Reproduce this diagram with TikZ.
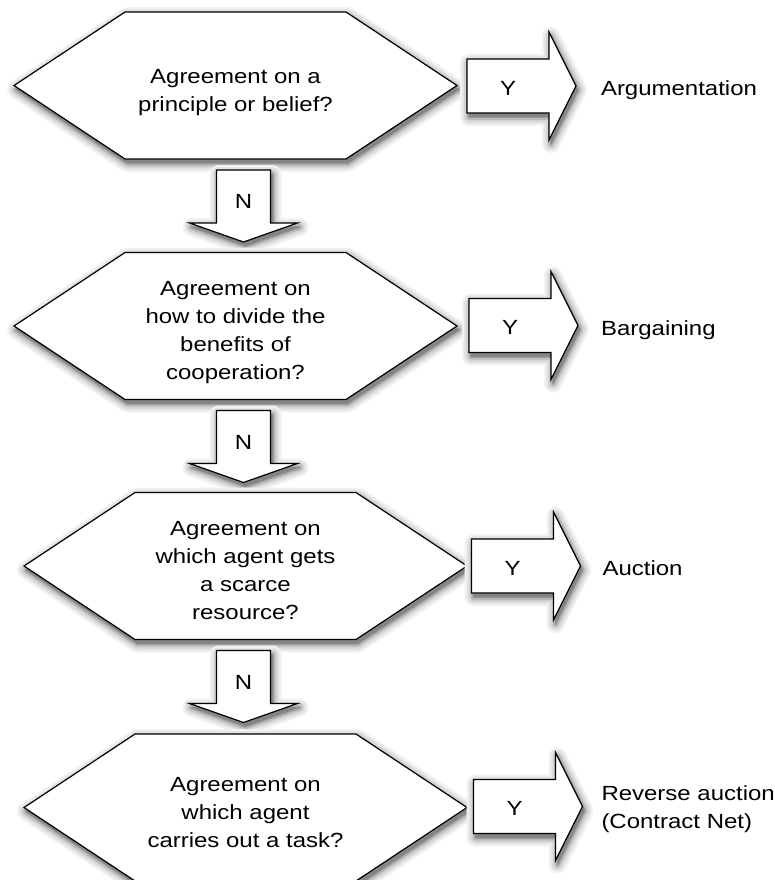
\documentclass[tikz,border=0pt]{standalone}
\usepackage{fontspec}
\setmainfont{Liberation Sans}[FakeStretch=1.17]
\usetikzlibrary{calc}
\pgfdeclarelayer{shapes}
\pgfsetlayers{shapes,main}
% struts fixing the first and last line of a question
\newcommand{\qfirst}{\rule{0pt}{28.6pt}}
\newcommand{\qlast}{\rule[-5pt]{0pt}{5pt}}
% outlines drawn around a node, moved by an offset #2
\newcommand{\hexagonpath}[2]{($(#1.west)+#2$) -- ($(#1.north west)+(111,0)+#2$)
  -- ($(#1.north east)+(-111,0)+#2$) -- ($(#1.east)+#2$)
  -- ($(#1.south east)+(-111,0)+#2$) -- ($(#1.south west)+(111,0)+#2$) -- cycle}
\newcommand{\downarrowpath}[2]{($(#1.north west)+#2$) -- ($(#1.north east)+#2$)
  -- ($(#1.south east)+#2$) -- ($(#1.south east)+(27,0)+#2$)
  -- ($(#1.south)+(0,19)+#2$) -- ($(#1.south west)+(-27,0)+#2$)
  -- ($(#1.south west)+#2$) -- cycle}
\newcommand{\rightarrowpath}[2]{($(#1.north west)+#2$) -- ($(#1.north east)+#2$)
  -- ($(#1.north east)+(0,-27)+#2$) -- ($(#1.east)+(27,0)+#2$)
  -- ($(#1.south east)+(0,27)+#2$) -- ($(#1.south east)+#2$)
  -- ($(#1.south west)+#2$) -- cycle}
% a shape with a soft shadow underneath
\newcommand{\castshape}[2]{%
  \foreach \sw/\sc in {18/5,14/10,10/17,6/27,2.5/38,0.1/48}{%
    \draw[shadowpen={\sc}{\sw}] #1{#2}{(2,4)};}
  \draw[outline] #1{#2}{(0,0)};}

\begin{document}
\begin{tikzpicture}[x=1pt,y=-1pt,
  every node/.style={font=\fontsize{20.5}{28}\selectfont, outer sep=0pt},
  shadowpen/.style 2 args={draw=black!#1, fill=black!#1, line width=#2pt, line join=round},
  outline/.style={draw=black, line width=1.2pt, fill=white, line join=miter},
  question/.style={align=center, minimum width=443pt, minimum height=147pt, inner sep=0pt},
  yshaft/.style={minimum width=82pt, minimum height=54pt, inner sep=0pt, text height=18.7pt},
  nshaft/.style={minimum width=54pt, minimum height=53pt, inner sep=0pt, text height=24.7pt},
  outcome/.style={anchor=north west, align=left, inner sep=0pt}]

\useasboundingbox (0,0) rectangle (775,880);

% decision questions
\node[question] (q1) at (235.5,85.5) {\qfirst Agreement on a\\principle or belief?\qlast};
\node[question] (q2) at (235.5,326) {\qfirst Agreement on\\how to divide the\\benefits of\\cooperation?\qlast};
\node[question] (q3) at (245.5,566) {\qfirst Agreement on\\which agent gets\\a scarce\\resource?\qlast};
\node[question] (q4) at (245.5,807.5) {\qfirst Agreement on\\which agent\\carries out a task?\qlast};

% "no" arrows between questions
\node[nshaft, anchor=north] (n1) at ($(q1.south)+(8,11)$) {N};
\node[nshaft, anchor=north] (n2) at ($(q2.south)+(8,11)$) {N};
\node[nshaft, anchor=north] (n3) at ($(q3.south)+(-2,11)$) {N};

% "yes" arrows to the outcomes
\node[yshaft] (y1) at (508,86) {Y};
\node[yshaft] (y2) at (510,325.5) {Y};
\node[yshaft] (y3) at (512.5,566) {Y};
\node[yshaft] (y4) at (514.5,806.5) {Y};

% outcomes
\node[outcome] (o1) at ($(y1.east)+(52,-5)$) {Argumentation};
\node[outcome] (o2) at ($(y2.east)+(50,-5)$) {Bargaining};
\node[outcome] (o3) at ($(y3.east)+(49,-5)$) {Auction};
\node[outcome] (o4) at ($(y4.east)+(46,-21)$) {Reverse auction\\(Contract Net)};

\begin{pgfonlayer}{shapes}
  \castshape{\hexagonpath}{q1}
  \castshape{\downarrowpath}{n1}
  \castshape{\hexagonpath}{q2}
  \castshape{\downarrowpath}{n2}
  \castshape{\hexagonpath}{q3}
  \castshape{\downarrowpath}{n3}
  \castshape{\hexagonpath}{q4}
  \castshape{\rightarrowpath}{y1}
  \castshape{\rightarrowpath}{y2}
  \castshape{\rightarrowpath}{y3}
  \castshape{\rightarrowpath}{y4}
\end{pgfonlayer}
\end{tikzpicture}
\end{document}
